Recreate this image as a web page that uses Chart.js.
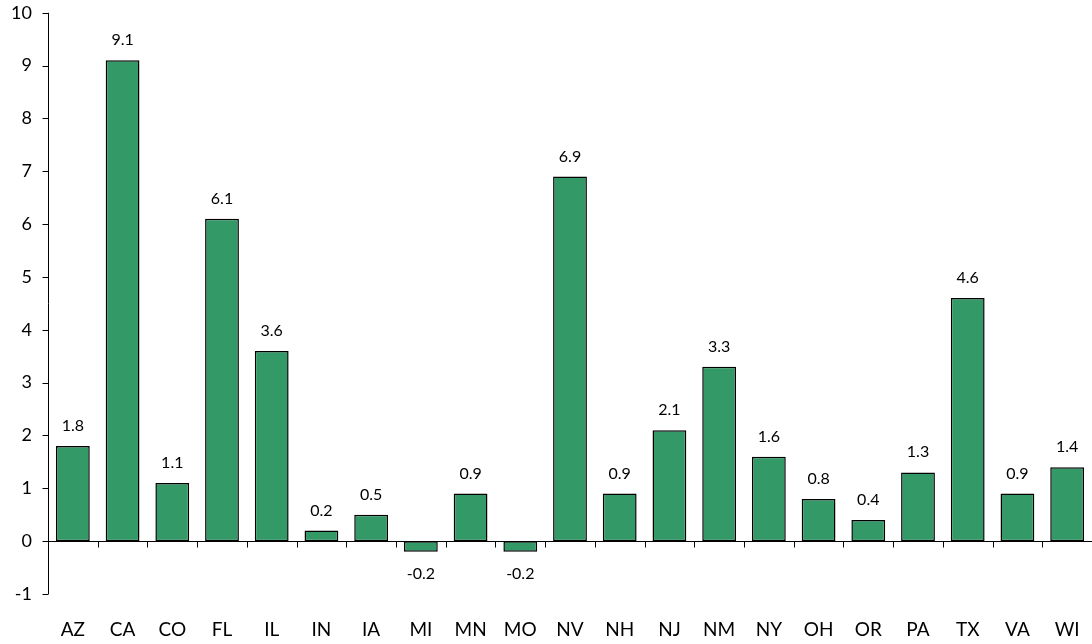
<!DOCTYPE html>
<html>
<head>
<meta charset="utf-8">
<script src="https://cdn.jsdelivr.net/npm/chart.js@4.4.1/dist/chart.umd.min.js"></script>
<style>
html,body{margin:0;padding:0;background:#fff;}
canvas{display:block;}
</style>
</head>
<body>
<canvas id="c" width="1092" height="644"></canvas>
<script>
const categories = ["AZ","CA","CO","FL","IL","IN","IA","MI","MN","MO","NV","NH","NJ","NM","NY","OH","OR","PA","TX","VA","WI"];
const values = [1.8,9.1,1.1,6.1,3.6,0.2,0.5,-0.2,0.9,-0.2,6.9,0.9,2.1,3.3,1.6,0.8,0.4,1.3,4.6,0.9,1.4];
const yMin = -1, yMax = 10, yStep = 1;

const FONT = "Lato, 'Open Sans', 'Liberation Sans', sans-serif";

const zeroAxisPlugin = {
  id: 'zeroAxis',
  afterDatasetsDraw(chart) {
    const ctx = chart.ctx, x = chart.scales.x, y = chart.scales.y, a = chart.chartArea;
    const y0 = Math.round(y.getPixelForValue(0)) + 0.5;
    ctx.save();
    ctx.strokeStyle = '#000';
    ctx.lineWidth = 1;
    ctx.beginPath();
    // zero line with category boundary ticks
    ctx.moveTo(a.left, y0); ctx.lineTo(a.right, y0);
    const half = (x.getPixelForValue(1) - x.getPixelForValue(0)) / 2;
    for (let i = 0; i <= categories.length; i++) {
      const px = Math.round(x.getPixelForValue(i) - half) + 0.5;
      ctx.moveTo(px, y0); ctx.lineTo(px, y0 + 6);
    }
    // y axis line and tick marks
    const ax = Math.round(a.left) + 0.5;
    ctx.moveTo(ax, a.top); ctx.lineTo(ax, a.bottom);
    y.ticks.forEach(t => {
      const py = Math.round(y.getPixelForValue(t.value)) + 0.5;
      ctx.moveTo(ax - 6, py); ctx.lineTo(ax, py);
    });
    ctx.stroke();
    // data labels
    ctx.fillStyle = '#000';
    ctx.font = "16px " + FONT;
    ctx.textAlign = 'center';
    ctx.textBaseline = 'alphabetic';
    const meta = chart.getDatasetMeta(0);
    meta.data.forEach((bar, i) => {
      const v = values[i];
      if (v >= 0) {
        ctx.fillText(v.toFixed(1), bar.x, bar.y - 15);
      } else {
        ctx.fillText(v.toFixed(1), bar.x, bar.y + 27);
      }
    });
    ctx.restore();
  }
};

new Chart(document.getElementById('c'), {
  type: 'bar',
  data: {
    labels: categories,
    datasets: [{
      data: values,
      backgroundColor: '#339966',
      borderColor: '#000',
      borderWidth: 1.5,
      borderSkipped: false,
      categoryPercentage: 1,
      barPercentage: 0.68
    }]
  },
  options: {
    responsive: false,
    animation: false,
    devicePixelRatio: 1,
    layout: { padding: { top: 0, right: 0, left: 0, bottom: 0 } },
    plugins: { legend: { display: false }, tooltip: { enabled: false } },
    scales: {
      x: {
        grid: { display: false, drawTicks: true, tickLength: 24 },
        border: { display: false },
        ticks: { color: '#000', font: { family: FONT, size: 19 }, padding: 0, maxRotation: 0, autoSkip: false },
        afterFit(s) { s.height = 50; }
      },
      y: {
        min: yMin, max: yMax,
        grid: { display: false, drawTicks: true, tickLength: 14 },
        border: { display: false },
        ticks: { stepSize: yStep, color: '#000', font: { family: FONT, size: 18 }, padding: 2 },
        afterFit(s) { s.width = 48; }
      }
    }
  },
  plugins: [zeroAxisPlugin]
});
</script>
</body>
</html>
